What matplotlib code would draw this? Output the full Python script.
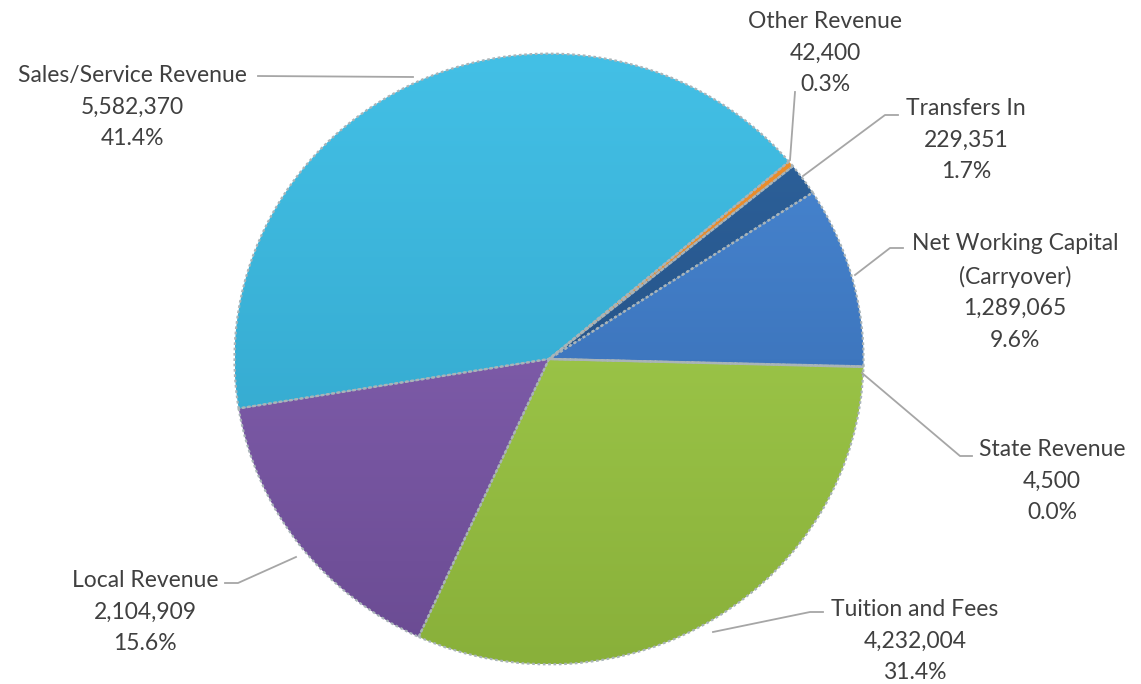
import numpy as np
import matplotlib
matplotlib.use("Agg")
import matplotlib.pyplot as plt
from matplotlib.colors import LinearSegmentedColormap

# ---- data ----
categories = ["Tuition and Fees", "Local Revenue", "Sales/Service Revenue",
              "Other Revenue", "Transfers In", "Net Working Capital\n(Carryover)",
              "State Revenue"]
values = [4232004, 2104909, 5582370, 42400, 229351, 1289065, 4500]
top_colors = ["#AAD553", "#8E69BC", "#43C0E6", "#F0922E", "#2F65A0", "#4A8AD6", "#C0504D"]
bot_colors = ["#89B03A", "#6A4B92", "#2E9FC4", "#D9781E", "#1E4676", "#3264A8", "#9C3B38"]

W, H = 1141, 684
K = 1.03  # slight vertical squash of the pie
fig = plt.figure(figsize=(W / 100, H / 100), dpi=100)
ax = fig.add_axes([0, 0, 1, 1])

def py(y):  # pixel y (top-down) -> data y
    return (H - y) * K

cx, cy, R = 549, py(359), 314.5
wedges, _ = ax.pie(values, startangle=-1.5, counterclock=False,
                   center=(cx, cy), radius=R, frame=True,
                   wedgeprops=dict(linewidth=0))
ax.set_xlim(0, W)
ax.set_ylim(0, H * K)
ax.set_aspect("auto")
ax.axis("off")

# gradient fills clipped to each wedge, plus dotted edges
grad = np.linspace(0, 1, 256).reshape(-1, 1)
for w, ct, cb in zip(wedges, top_colors, bot_colors):
    w.set_facecolor("none")
    cmap = LinearSegmentedColormap.from_list("g", [cb, ct])
    im = ax.imshow(grad, cmap=cmap, origin="lower", aspect="auto",
                   extent=(cx - R, cx + R, cy - R, cy + R), zorder=1)
    im.set_clip_path(w)
    w.set_edgecolor("#A9B4B8")
    w.set_linewidth(1.6)
    w.set_linestyle((0, (1.2, 1.2)))
    w.set_zorder(2)

# labels
total = sum(values)
label_pos = [(915, 641), (145, 612), (132, 107), (825, 53), (966, 140),
             (1015, 292), (1052, 481)]
leaders = [
    [(713, 632), (810, 612), (823, 612)],
    [(296, 557), (238, 583), (225, 583)],
    [(413, 77), (258, 76)],
    [(790, 160), (795, 92)],
    [(803, 176), (885, 115), (898, 115)],
    [(855, 275), (890, 248), (903, 248)],
    [(862, 373), (960, 456), (972, 456)],
]
tc = "#404040"
for cat, v, (lx, ly), pts in zip(categories, values, label_pos, leaders):
    txt = f"{cat}\n{v:,}\n{v / total * 100:.1f}%"
    ax.text(lx, py(ly), txt, ha="center", va="center", fontsize=16.5,
            family="Lato", color=tc, linespacing=1.62, zorder=5)
    xs = [p[0] for p in pts]
    ys = [py(p[1]) for p in pts]
    ax.plot(xs, ys, color="#A6A6A6", lw=1.3, zorder=4)

fig.savefig("out.png", dpi=100)
